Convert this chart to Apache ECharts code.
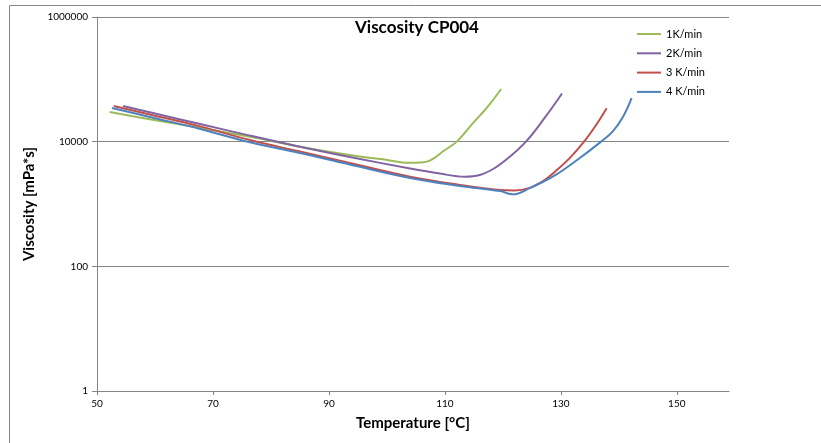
<!DOCTYPE html>
<html><head><meta charset="utf-8">
<script src="https://cdn.jsdelivr.net/npm/echarts@6/dist/echarts.min.js"></script>
<style>html,body{margin:0;padding:0;background:#fff}#c{width:821px;height:443px}</style>
</head><body><div id="c"></div>
<script>
const seriesNames = ['1K/min', '2K/min', '3 K/min', '4 K/min'];
const seriesColors = ['#9BBB59', '#8064A2', '#C0504D', '#4F81BD'];
const xTicks = [50, 70, 90, 110, 130, 150];
const yTicks = [1, 100, 10000, 1000000];

const temp1 = [52.2, 59.1, 67.8, 76.4, 85.0, 93.6, 99.3, 104.0, 105.7, 107.4, 110.0, 112.1, 114.8, 116.9, 118.3, 119.7];
const visc1 = [29900, 22900, 16600, 12000, 8300, 6110, 5210, 4590, 4620, 4950, 7350, 10100, 19700, 32200, 46600, 70000];

const temp2 = [54.5, 59.1, 67.8, 76.4, 85.0, 93.6, 104.0, 109.1, 113.4, 116.0, 118.6, 121.2, 124.1, 127.2, 130.2];
const visc2 = [37300, 29600, 19200, 12500, 8300, 5680, 3710, 3080, 2740, 2920, 3780, 5740, 10300, 24000, 59300];

const temp3 = [52.9, 59.1, 67.8, 76.4, 85.0, 93.6, 104.0, 112.6, 119.5, 122.0, 124.5, 127.0, 129.0, 131.6, 134.1, 136.2, 137.9];
const visc3 = [37300, 27300, 17600, 10600, 6950, 4550, 2740, 2020, 1680, 1650, 1800, 2350, 3300, 5540, 10300, 19200, 34300];

const temp4 = [52.6, 59.1, 67.8, 76.4, 85.0, 93.6, 104.0, 112.6, 119.5, 121.7, 124.7, 128.6, 132.8, 137.1, 139.0, 140.7, 142.2];
const visc4 = [34700, 24900, 16000, 9770, 6580, 4300, 2610, 1950, 1610, 1430, 1810, 2740, 5080, 10300, 14800, 24900, 50100];

const temps = [temp1, temp2, temp3, temp4];
const viscs = [visc1, visc2, visc3, visc4];

const FONT = 'Lato';
const chart = echarts.init(document.getElementById('c'));
chart.setOption({
  animation: false,
  backgroundColor: '#fff',
  textStyle: { fontFamily: FONT },
  graphic: [{
    type: 'rect', shape: { x: 9.5, y: 5.5, width: 900, height: 600 },
    style: { fill: 'none', stroke: '#888', lineWidth: 1 }, silent: true, z: -10
  }],
  title: {
    text: 'Viscosity CP004', left: 412, top: 14, textAlign: 'center',
    textStyle: { fontFamily: FONT, fontSize: 17, fontWeight: 'bold', color: '#000' }
  },
  legend: {
    orient: 'vertical', left: 632, top: 23,
    icon: 'rect', itemWidth: 24, itemHeight: 2, itemGap: 7.3,
    textStyle: { fontFamily: FONT, fontSize: 11, color: '#000', lineHeight: 12 },
    data: seriesNames
  },
  grid: { left: 97, right: 92, top: 17, bottom: 52, containLabel: false },
  xAxis: {
    type: 'value', min: 50, max: 159,
    name: 'Temperature [°C]', nameLocation: 'middle', nameGap: 25,
    nameTextStyle: { fontFamily: FONT, fontSize: 15, fontWeight: 'bold', color: '#000' },
    axisLine: { show: true, lineStyle: { color: '#868686', width: 1 } },
    axisTick: { show: true, length: 4, lineStyle: { color: '#868686' }, customValues: xTicks },
    axisLabel: { fontFamily: FONT, fontSize: 10, color: '#000', margin: 8, customValues: xTicks },
    splitLine: { show: false }
  },
  yAxis: {
    type: 'log', logBase: 10, min: 1, max: 1000000, interval: 2,
    name: 'Viscosity [mPa*s]', nameLocation: 'middle', nameGap: 56, nameRotate: 90,
    nameTextStyle: { fontFamily: FONT, fontSize: 15, fontWeight: 'bold', color: '#000' },
    axisLine: { show: true, lineStyle: { color: '#868686', width: 1 } },
    axisTick: { show: true, length: 5, lineStyle: { color: '#868686' } },
    axisLabel: { fontFamily: FONT, fontSize: 10, color: '#000', margin: 9,
      formatter: v => String(Math.round(v)) },
    splitLine: { show: true, lineStyle: { color: '#868686', width: 1 } }
  },
  series: seriesNames.map((n, i) => ({
    name: n, type: 'line', showSymbol: false, symbol: 'none', smooth: 0.4,
    lineStyle: { width: 2, color: seriesColors[i] },
    itemStyle: { color: seriesColors[i] },
    data: temps[i].map((t, j) => [t, viscs[i][j]])
  }))
});
</script></body></html>
